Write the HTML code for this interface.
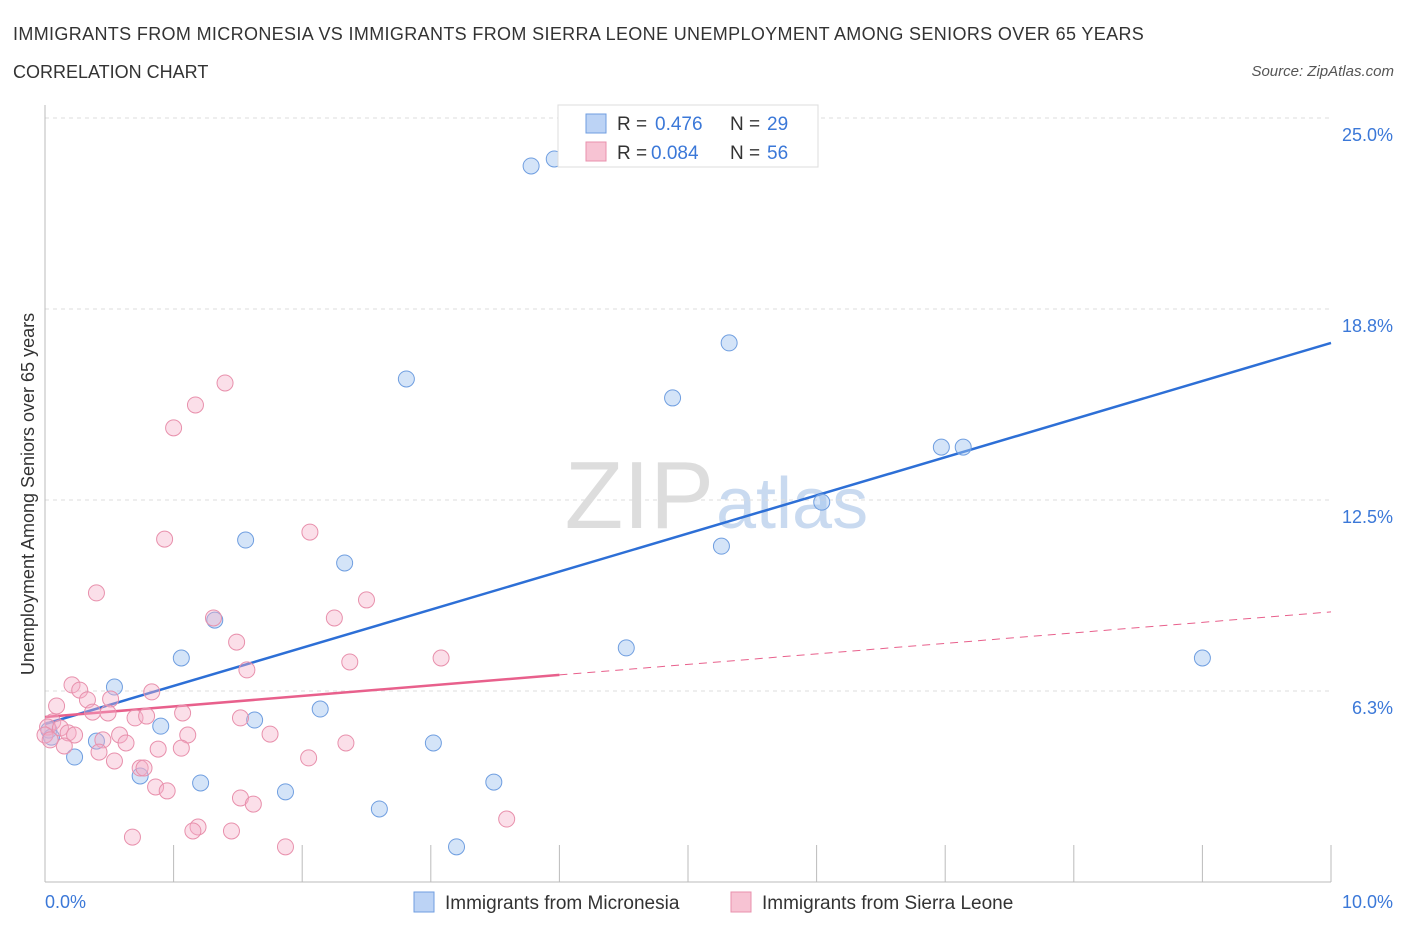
<!DOCTYPE html>
<html><head><meta charset="utf-8"><style>
body{margin:0;background:#fff;font-family:"Liberation Sans",sans-serif}
svg text{font-family:"Liberation Sans",sans-serif}
</style></head><body>
<svg id="chart" width="1406" height="930" xmlns="http://www.w3.org/2000/svg">
<text x="13" y="40" font-size="18" fill="#333" letter-spacing="0.35">IMMIGRANTS FROM MICRONESIA VS IMMIGRANTS FROM SIERRA LEONE UNEMPLOYMENT AMONG SENIORS OVER 65 YEARS</text>
<text x="13" y="78" font-size="18" fill="#333">CORRELATION CHART</text>
<text x="1394" y="76" font-size="15" fill="#555" font-style="italic" text-anchor="end">Source: ZipAtlas.com</text>
<text x="714" y="528" font-size="96" fill="#ddd" text-anchor="end" font-family="Liberation Serif">ZIP</text>
<text x="716" y="528" font-size="72" fill="#c9daf0">atlas</text>
<g id="grid"></g><g id="axes"></g><g id="lines"></g><g id="pts"></g>
<text transform="translate(34,494) rotate(-90)" font-size="18" fill="#333" text-anchor="middle">Unemployment Among Seniors over 65 years</text>
<g>
<rect x="558" y="105" width="260" height="62" fill="#fff" stroke="#ddd"/>
<rect x="586" y="114" width="20" height="19" fill="#bcd3f5" stroke="#6f9ee0"/>
<rect x="586" y="142" width="20" height="19" fill="#f7c3d3" stroke="#e890ac"/>
<text x="617" y="130" font-size="19" fill="#333">R = </text><text x="655" y="130" font-size="19" fill="#3b78d8">0.476</text>
<text x="730" y="130" font-size="19" fill="#333">N = </text><text x="767" y="130" font-size="19" fill="#3b78d8">29</text>
<text x="617" y="159" font-size="19" fill="#333">R = </text><text x="651" y="159" font-size="19" fill="#3b78d8">0.084</text>
<text x="730" y="159" font-size="19" fill="#333">N = </text><text x="767" y="159" font-size="19" fill="#3b78d8">56</text>
</g>
<g>
<rect x="414" y="892" width="20" height="20" fill="#bcd3f5" stroke="#6f9ee0"/>
<text x="445" y="909" font-size="19" fill="#333">Immigrants from Micronesia</text>
<rect x="731" y="892" width="20" height="20" fill="#f7c3d3" stroke="#e890ac"/>
<text x="762" y="909" font-size="19" fill="#333">Immigrants from Sierra Leone</text>
</g>
</svg>
<script>
const yTicks=[25.0,18.8,12.5,6.3];
const yTickVals=[25,18.75,12.5,6.25];
const xTickLabels=["0.0%","10.0%"];
const blueX=[3.78,3.96,5.32,2.81,4.88,6.97,7.14,6.04,5.26,1.56,2.33,1.32,4.52,1.06,9.00,0.54,2.14,1.63,0.90,0.03,0.05,0.40,3.02,0.23,0.74,1.21,3.49,1.87,2.60,3.20];
const blueY=[23.43,23.66,17.64,16.46,15.84,14.23,14.23,12.43,10.99,11.19,10.44,8.57,7.66,7.33,7.33,6.38,5.66,5.30,5.10,4.97,4.74,4.61,4.55,4.09,3.47,3.24,3.27,2.95,2.39,1.15];
const pinkX=[1.40,1.17,1.00,0.93,2.06,0.40,2.50,1.31,2.25,1.49,2.37,3.08,1.57,0.21,0.27,0.83,0.51,0.33,0.09,0.37,0.49,0.70,1.07,1.52,0.79,0.06,0.02,0.12,0.18,0.23,0.45,0.58,0.63,1.11,1.75,2.34,0.15,0.42,0.88,1.06,0.54,2.05,0.74,0.77,0.86,0.95,1.52,1.62,3.59,1.19,1.15,1.45,0.68,1.87,0.0,0.04];
const pinkY=[16.33,15.61,14.86,11.22,11.45,9.46,9.23,8.64,8.64,7.85,7.20,7.33,6.94,6.45,6.28,6.22,5.99,5.96,5.76,5.56,5.53,5.37,5.53,5.37,5.43,5.24,5.07,5.04,4.88,4.81,4.65,4.81,4.55,4.81,4.84,4.55,4.45,4.25,4.35,4.38,3.96,4.06,3.73,3.73,3.11,2.98,2.75,2.55,2.06,1.80,1.67,1.67,1.47,1.15,4.81,4.65];
const blueTrend=[5.17,17.64];
const pinkTrend=[5.40,8.84];
const pinkSolidEnd=4.0;
const NS="http://www.w3.org/2000/svg";
const X=v=>45+v*128.6, Y=v=>882-v*30.56;
function mk(tag,attrs,parent){const e=document.createElementNS(NS,tag);for(const k in attrs)e.setAttribute(k,attrs[k]);document.getElementById(parent).appendChild(e);return e;}
yTickVals.forEach((v,i)=>{
 const g=mk('line',{x1:45,x2:1331,y1:Y(v),y2:Y(v),stroke:'#ddd','stroke-dasharray':'4,4'},'grid');
 
 
 const t=mk('text',{x:1393,y:Y(v)+23,'font-size':18,fill:'#3b78d8','text-anchor':'end'},'grid');
 t.textContent=yTicks[i].toFixed(1)+'%';
 
 
});
const ax=mk('line',{x1:45,x2:45,y1:105,y2:882,stroke:'#bbb'},'axes');


const bx=mk('line',{x1:45,x2:1331,y1:882,y2:882,stroke:'#bbb'},'axes');


for(let i=0;i<=10;i++){const t=mk('line',{x1:X(i),x2:X(i),y1:845,y2:882,stroke:'#bbb'},'axes');
 
 }
[[0,'start',X(0)],[1,'end',1393]].forEach(([i,a,x])=>{const t=mk('text',{x:x,y:908,'font-size':18,fill:'#3b78d8','text-anchor':a},'axes');t.textContent=xTickLabels[i];
 
 });
blueX.forEach((v,i)=>{const c=mk('circle',{cx:X(v),cy:Y(blueY[i]),r:8,fill:'rgba(160,195,240,0.45)',stroke:'#6f9ee0','stroke-width':1},'pts');
 
 });
pinkX.forEach((v,i)=>{const c=mk('circle',{cx:X(v),cy:Y(pinkY[i]),r:8,fill:'rgba(245,175,200,0.4)',stroke:'#e890ac','stroke-width':1},'pts');
 
 });
const bl=mk('line',{x1:X(0),y1:Y(blueTrend[0]),x2:X(10),y2:Y(blueTrend[1]),stroke:'#2d6fd6','stroke-width':2.5},'lines');


const pm=pinkTrend[0]+(pinkTrend[1]-pinkTrend[0])*pinkSolidEnd/10;
const pl=mk('line',{x1:X(0),y1:Y(pinkTrend[0]),x2:X(pinkSolidEnd),y2:Y(pm),stroke:'#e8608c','stroke-width':2.5},'lines');


const pd=mk('line',{x1:X(pinkSolidEnd),y1:Y(pm),x2:X(10),y2:Y(pinkTrend[1]),stroke:'#e8608c','stroke-width':1,'stroke-dasharray':'8,6'},'lines');


</script>
</body></html>
